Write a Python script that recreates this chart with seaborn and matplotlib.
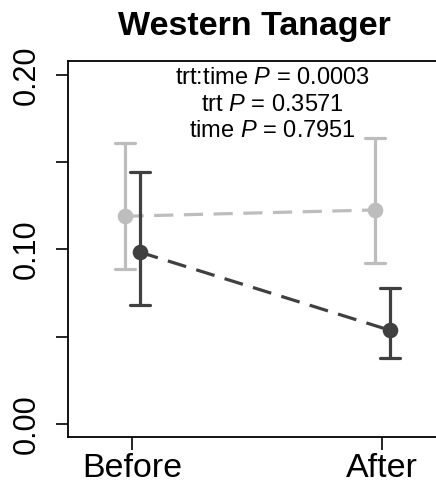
import numpy as np
import pandas as pd
import matplotlib
matplotlib.use("Agg")
import matplotlib.pyplot as plt
import seaborn as sns

# ---- data ----
times = ["Before", "After"]
groups = ["Control", "Treatment"]
means_control = [0.119, 0.1226]
lower_control = [0.0888, 0.0922]
upper_control = [0.161, 0.1638]
means_treat = [0.0985, 0.0538]
lower_treat = [0.0682, 0.0378]
upper_treat = [0.1443, 0.0779]
stats_labels = ["trt:time", "trt", "time"]
stats_p = ["0.0003", "0.3571", "0.7951"]
title = "Western Tanager"
yticks_major = [0.00, 0.10, 0.20]
yticks_minor = [0.05, 0.15]

# long table: lower / mean / upper per group, estimator=median -> mean, errorbar=(min,max)
rows = []
for g, lo, mu, hi in [(groups[0], lower_control, means_control, upper_control),
                      (groups[1], lower_treat, means_treat, upper_treat)]:
    for i, t in enumerate(times):
        for v in (lo[i], mu[i], hi[i]):
            rows.append({"time": t, "trt": g, "value": v})
df = pd.DataFrame(rows)

sns.set_theme(style="ticks")
plt.rcParams["font.family"] = ["Liberation Sans", "DejaVu Sans"]
plt.rcParams["mathtext.fontset"] = "custom"
plt.rcParams["mathtext.it"] = "Liberation Sans:italic"
plt.rcParams["mathtext.rm"] = "Liberation Sans"
plt.rcParams["text.color"] = "black"
plt.rcParams["xtick.color"] = "black"
plt.rcParams["ytick.color"] = "black"
plt.rcParams["xtick.labelcolor"] = "black"
plt.rcParams["ytick.labelcolor"] = "black"

fig = plt.figure(figsize=(4.36, 4.87), dpi=100)
ax = fig.add_axes([68 / 436, 50 / 487, (446 - 68) / 436, (437 - 61) / 487])

palette = {groups[0]: "#BDBDBD", groups[1]: "#404040"}
sns.pointplot(data=df, x="time", y="value", hue="trt", order=times, hue_order=groups,
              estimator=np.median, errorbar=lambda x: (np.min(x), np.max(x)),
              dodge=0.06, palette=palette, linestyles=(0, (6, 3.3)),
              markers="o", markersize=9.5, linewidth=2.3, err_kws={"linewidth": 2.3},
              capsize=0.08, legend=False, ax=ax)

ax.set_xlim(-0.256, 1.256)
ax.set_ylim(-0.0074, 0.2079)
ax.set_yticks(yticks_major)
ax.set_yticklabels([f"{v:.2f}" for v in yticks_major], rotation=90, va="center")
ax.set_yticks(yticks_minor, minor=True)
ax.tick_params(axis="y", which="both", length=9, width=1.2, labelsize=22, pad=10)
ax.tick_params(axis="x", length=9, width=1.2, labelsize=24.5, pad=2.5)
ax.set_xlabel("")
ax.set_ylabel("")
for s in ax.spines.values():
    s.set_visible(True)
    s.set_linewidth(1.3)
    s.set_color("black")

baselines = [84, 111, 137]
for (l, p), yb in zip(zip(stats_labels, stats_p), baselines):
    fig.text(272 / 436, 1 - yb / 487, f"{l} $P$ = {p}", ha="center", va="baseline", fontsize=17)

fig.text(254 / 436, 1 - 35 / 487, title, ha="center", va="baseline", fontsize=24.5, fontweight="bold")

fig.savefig("out.png", dpi=100)
